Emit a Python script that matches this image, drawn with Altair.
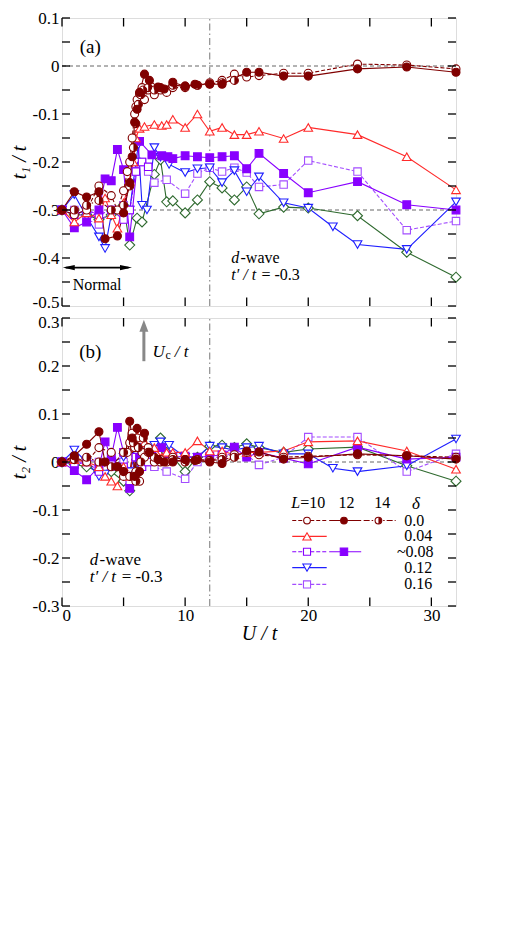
import altair as alt
import pandas as pd

FONT = "Liberation Serif"

# ---------------- data ----------------
# delta = 0.0, L = 10 (open circles, dashed)
U_C10 = [0, 1, 2, 3, 4, 4.5, 5, 5.3, 5.5, 5.7, 5.9, 6.0, 6.1, 6.3, 6.5, 6.7, 7, 7.5, 8, 8.5, 9, 10, 11, 12, 13, 14, 15, 16, 18, 20, 24, 28, 32]
T1_C10 = [-0.30, -0.31, -0.30, -0.25, -0.27, -0.30, -0.26, -0.22, -0.20, -0.15, -0.10, -0.085, -0.07, -0.058, -0.045, -0.07, -0.05, -0.06, -0.05, -0.055, -0.045, -0.045, -0.04, -0.035, -0.03, -0.017, -0.023, -0.02, -0.015, -0.015, 0.004, 0.002, -0.006]
T2_C10 = [0, 0.01, 0.0, 0.03, 0.02, -0.01, -0.03, 0.02, 0.04, 0.06, 0.03, -0.02, 0.05, -0.04, 0.02, 0.01, 0.03, 0.0, 0.005, 0.0, 0.01, 0.005, 0.005, 0.003, 0.01, 0.015, 0.02, 0.015, 0.01, 0.012, 0.015, 0.013, 0.01]

# delta = 0.0, L = 12 (filled circles, solid)
U_C12 = [0, 1, 2, 3, 3.5, 4.5, 5, 5.5, 5.7, 5.9, 6.1, 6.3, 6.7, 7.1, 7.8, 8.3, 9, 10, 10.8, 12, 13, 15, 16, 18, 20, 24, 28, 32]
T1_C12 = [-0.30, -0.262, -0.273, -0.262, -0.36, -0.354, -0.306, -0.243, -0.189, -0.117, -0.09, -0.055, -0.017, -0.03, -0.044, -0.048, -0.034, -0.042, -0.038, -0.038, -0.038, -0.013, -0.013, -0.021, -0.021, -0.006, -0.002, -0.013]
T2_C12 = [0, 0.013, 0.037, 0.063, 0.0, -0.01, -0.02, 0.085, 0.05, -0.03, 0.07, -0.02, 0.06, 0.02, 0.005, 0.0, 0.0, 0.005, 0.003, 0.0, -0.003, 0.023, 0.021, 0.006, 0.01, 0.017, 0.013, 0.006]

# delta = 0.0, L = 14 (half-filled circles, dash-dot)
U_C14 = [0, 1, 2, 3, 4, 5, 5.5, 5.8, 6, 6.2, 6.4, 6.6, 7, 7.5, 8, 9, 10, 11, 12, 13, 14]
T1_C14 = [-0.30, -0.30, -0.29, -0.28, -0.30, -0.29, -0.25, -0.17, -0.12, -0.08, -0.06, -0.05, -0.045, -0.05, -0.045, -0.04, -0.042, -0.04, -0.037, -0.035, -0.03]
T2_C14 = [0, 0.005, 0.01, 0.0, -0.01, 0.02, -0.03, 0.04, -0.04, 0.03, 0.0, 0.05, 0.02, 0.01, 0.0, 0.005, 0.0, 0.005, 0.003, 0.005, 0.01]

# delta = 0.04 (open triangles up, solid)
U_T04 = [0, 1, 2, 3, 3.5, 4, 4.5, 5, 5.5, 5.8, 6, 6.3, 6.7, 7.5, 8.1, 8.5, 9, 10, 11, 12, 13, 14, 15, 16, 18, 20, 24, 28, 32]
T1_T04 = [-0.30, -0.325, -0.306, -0.317, -0.275, -0.31, -0.338, -0.285, -0.24, -0.20, -0.15, -0.13, -0.126, -0.122, -0.124, -0.122, -0.111, -0.128, -0.10, -0.136, -0.128, -0.143, -0.143, -0.136, -0.151, -0.128, -0.143, -0.189, -0.258]
T2_T04 = [0, 0.005, 0.0, -0.01, -0.03, -0.04, -0.05, -0.01, -0.03, 0.03, 0.05, 0.058, 0.04, 0.03, 0.01, 0.02, 0.02, 0.02, 0.044, 0.023, 0.023, 0.015, 0.02, 0.02, 0.023, 0.042, 0.044, 0.023, -0.015]

# delta ~ 0.08, L = 10 (open squares, dashed)
U_S08A = [0, 1, 2, 3, 4, 5, 5.5, 6, 6.5, 7]
T1_S08A = [-0.30, -0.31, -0.30, -0.31, -0.30, -0.32, -0.30, -0.22, -0.20, -0.21]
T2_S08A = [0, -0.005, 0.0, -0.02, 0.005, -0.01, -0.04, 0.01, -0.01, 0.0]

# delta ~ 0.08, L = 12 (filled squares, solid)
U_S08B = [0, 1, 2, 3, 3.5, 4, 4.5, 5, 5.5, 6.3, 7.3, 8.1, 8.6, 9, 10, 11, 12, 13, 14, 15, 16, 18, 20, 24, 28, 32]
T1_S08B = [-0.30, -0.337, -0.325, -0.30, -0.235, -0.239, -0.174, -0.216, -0.356, -0.157, -0.185, -0.187, -0.189, -0.193, -0.187, -0.189, -0.191, -0.189, -0.187, -0.214, -0.182, -0.224, -0.264, -0.241, -0.289, -0.30]
T2_S08B = [0, -0.018, -0.037, -0.01, 0.042, 0.01, 0.072, 0.02, -0.055, 0.01, 0.02, 0.03, 0.015, 0.01, 0.012, 0.01, 0.012, 0.015, 0.031, 0.01, 0.02, 0.008, -0.004, 0.031, 0.006, 0.01]

# delta = 0.12 (open triangles down, solid)
U_T12 = [0, 1, 2, 3, 3.5, 4, 5, 5.5, 6, 6.2, 6.5, 6.9, 7.5, 8, 8.7, 10, 11, 12, 13, 14, 15, 16, 18, 20, 22, 24, 28, 32]
T1_T12 = [-0.30, -0.268, -0.314, -0.356, -0.38, -0.31, -0.30, -0.30, -0.20, -0.164, -0.29, -0.30, -0.17, -0.19, -0.205, -0.222, -0.214, -0.212, -0.243, -0.218, -0.262, -0.231, -0.285, -0.296, -0.335, -0.372, -0.382, -0.283]
T2_T12 = [0, 0.025, 0.0, -0.03, -0.025, 0.0, 0.01, -0.02, 0.02, 0.0, 0.03, 0.02, 0.035, 0.042, 0.035, 0.01, 0.01, 0.033, 0.03, 0.025, 0.03, 0.033, 0.017, 0.017, -0.013, -0.02, -0.008, 0.048]

# delta = 0.16 (open squares, dashed)
U_S16 = [0, 1, 2, 3, 4, 5, 5.5, 6, 6.5, 7, 7.5, 8.5, 10, 11, 12, 13, 14, 15, 16, 18, 20, 24, 28, 32]
T1_S16 = [-0.30, -0.30, -0.32, -0.33, -0.30, -0.29, -0.30, -0.22, -0.20, -0.22, -0.243, -0.237, -0.266, -0.224, -0.212, -0.22, -0.212, -0.222, -0.252, -0.247, -0.197, -0.22, -0.342, -0.323]
T2_S16 = [0, -0.005, 0.005, 0.0, -0.01, 0.0, -0.02, 0.01, 0.02, 0.0, -0.01, -0.02, -0.035, 0.0, 0.01, 0.01, 0.02, 0.015, -0.006, 0.01, 0.052, 0.052, -0.02, 0.017]

# green diamonds (solid)
U_DIA = [0, 1, 2, 3, 4, 5, 5.5, 6.1, 6.5, 7.5, 8, 8.5, 9, 10, 11, 12, 13, 14, 15, 16, 18, 20, 24, 28, 32]
T1_DIA = [-0.30, -0.31, -0.31, -0.32, -0.31, -0.29, -0.373, -0.317, -0.325, -0.226, -0.195, -0.283, -0.281, -0.306, -0.279, -0.241, -0.254, -0.279, -0.252, -0.308, -0.294, -0.296, -0.312, -0.388, -0.44]
T2_DIA = [0, -0.005, -0.01, -0.02, -0.02, -0.04, -0.06, -0.02, 0.0, 0.03, 0.05, 0.02, 0.01, -0.02, 0.01, 0.033, 0.035, 0.03, 0.038, 0.03, 0.02, 0.027, 0.031, -0.008, -0.04]

# axis ticks / labels
X_LABELS = [0, 10, 20, 30]
X_TICKS = [0, 5, 10, 15, 20, 25, 30]
YA_LABELS = [0.1, 0, -0.1, -0.2, -0.3, -0.4, -0.5]
YA_TICKS = [0.1, 0.05, 0, -0.05, -0.1, -0.15, -0.2, -0.25, -0.3, -0.35, -0.4, -0.45, -0.5]
YB_LABELS = [0.3, 0.2, 0.1, 0, -0.1, -0.2, -0.3]
YB_TICKS = [0.3, 0.25, 0.2, 0.15, 0.1, 0.05, 0, -0.05, -0.1, -0.15, -0.2, -0.25, -0.3]

# legend
LEG_HEAD = ["12", "14"]
LEG_DELTA = ["0.0", "0.04", "~0.08", "0.12", "0.16"]

MAROON = "#800000"
RED = "#ff2a2a"
PURPLE = "#8800ff"
LPURPLE = "#a34dff"
BLUE = "#1f1fff"
GREEN = "#2f6a2f"
GRAY = "#777777"

DASH = [4, 2]
DASHDOT = [6, 2, 1.5, 2]
HALF = "M0,-1A1,1,0,0,1,0,1Z"

SERIES = [
    dict(U=U_DIA, t1=T1_DIA, t2=T2_DIA, color=GREEN, dash=None, shape="diamond", fill="white", size=100),
    dict(U=U_S16, t1=T1_S16, t2=T2_S16, color=LPURPLE, dash=DASH, shape="square", fill="white", size=55),
    dict(U=U_T12, t1=T1_T12, t2=T2_T12, color=BLUE, dash=None, shape="triangle-down", fill="white", size=75),
    dict(U=U_S08A, t1=T1_S08A, t2=T2_S08A, color=PURPLE, dash=DASH, shape="square", fill="white", size=55),
    dict(U=U_S08B, t1=T1_S08B, t2=T2_S08B, color=PURPLE, dash=None, shape="square", fill=PURPLE, size=60),
    dict(U=U_T04, t1=T1_T04, t2=T2_T04, color=RED, dash=None, shape="triangle-up", fill="white", size=75),
    dict(U=U_C10, t1=T1_C10, t2=T2_C10, color=MAROON, dash=DASH, shape="circle", fill="white", size=64),
    dict(U=U_C14, t1=T1_C14, t2=T2_C14, color=MAROON, dash=DASHDOT, shape="circle", fill="white", size=64, half=True),
    dict(U=U_C12, t1=T1_C12, t2=T2_C12, color=MAROON, dash=None, shape="circle", fill=MAROON, size=64),
]

XMIN, XMAX = 0, 32
W, H = 394, 288


def panel(key, ymin, ymax, ylabels, yticks, ytitle, show_x, offset_expr):
    xs = alt.Scale(domain=[XMIN, XMAX], nice=False, zero=False)
    ys = alt.Scale(domain=[ymin, ymax], nice=False, zero=False)
    if show_x:
        xaxis = alt.Axis(values=X_LABELS, labelExpr="'' + datum.value", ticks=False, domain=False,
                         grid=False, labelFont=FONT, labelFontSize=17, labelColor="black",
                         labelPadding=1, title="U / t", titleFont=FONT, titleFontSize=20,
                         titleFontStyle="italic", titleFontWeight="normal", titleColor="black",
                         titlePadding=0)
    else:
        xaxis = None
    yaxis = alt.Axis(values=ylabels, labelExpr="'' + datum.value", ticks=False, domain=False, grid=False,
                     labelFont=FONT, labelFontSize=17, labelColor="black", labelPadding=3,
                     labelOffset=alt.expr(offset_expr),
                     title=ytitle, titleFont=FONT, titleFontSize=20, titleFontStyle="italic",
                     titleFontWeight="normal", titleColor="black", titlePadding=3)

    def X(f):
        return alt.X(f, type="quantitative", scale=xs, axis=xaxis)

    def Y(f):
        return alt.Y(f, type="quantitative", scale=ys, axis=yaxis)

    layers = []
    # reference lines
    hl = [0, -0.3] if key == "t1" else [0]
    layers.append(alt.Chart(pd.DataFrame({"U": [XMIN] * len(hl), "U2": [XMAX] * len(hl), "v": hl}))
                  .mark_rule(color="#666666", strokeWidth=1, strokeDash=[4, 3])
                  .encode(x=X("U"), x2="U2", y=Y("v")))
    layers.append(alt.Chart(pd.DataFrame({"U": [12], "v": [ymin], "v2": [ymax]}))
                  .mark_rule(color=GRAY, strokeWidth=1, strokeDash=[7, 3, 1.5, 3])
                  .encode(x=X("U"), y=Y("v"), y2="v2"))

    # series
    for s in SERIES:
        df = pd.DataFrame({"U": s["U"], "v": s[key]})
        base = alt.Chart(df)
        lkw = dict(color=s["color"], strokeWidth=1.1)
        if s["dash"]:
            lkw["strokeDash"] = s["dash"]
        layers.append(base.mark_line(**lkw).encode(x=X("U"), y=Y("v")))
    for s in SERIES:
        df = pd.DataFrame({"U": s["U"], "v": s[key]})
        base = alt.Chart(df)
        layers.append(base.mark_point(shape=s["shape"], filled=True, fill=s["fill"], stroke=s["color"],
                                      strokeWidth=1.1, size=s["size"], opacity=1)
                      .encode(x=X("U"), y=Y("v")))
        if s.get("half"):
            layers.append(base.mark_point(shape=HALF, filled=True, fill=s["color"], strokeWidth=0,
                                          size=s["size"], opacity=1)
                          .encode(x=X("U"), y=Y("v")))

    # inward ticks (all four sides)
    tx = 0.65
    ty = (ymax - ymin) * 8.5 / H
    yt = pd.DataFrame({"v": yticks})
    xt = pd.DataFrame({"U": X_TICKS})
    layers.append(alt.Chart(yt).transform_calculate(a=f"{XMIN}", b=f"{XMIN + tx}")
                  .mark_rule(color="black", strokeWidth=1.3).encode(x=X("a:Q"), x2="b:Q", y=Y("v")))
    layers.append(alt.Chart(yt).transform_calculate(a=f"{XMAX}", b=f"{XMAX - tx}")
                  .mark_rule(color="black", strokeWidth=1.3).encode(x=X("a:Q"), x2="b:Q", y=Y("v")))
    layers.append(alt.Chart(xt).transform_calculate(a=f"{ymin}", b=f"{ymin + ty}")
                  .mark_rule(color="black", strokeWidth=1.3).encode(x=X("U"), y=Y("a:Q"), y2="b:Q"))
    layers.append(alt.Chart(xt).transform_calculate(a=f"{ymax}", b=f"{ymax - ty}")
                  .mark_rule(color="black", strokeWidth=1.3).encode(x=X("U"), y=Y("a:Q"), y2="b:Q"))

    def txt(U, v, s, size=16, style="normal", align="left", color="black", baseline="middle"):
        return (alt.Chart(pd.DataFrame({"U": [U], "v": [v], "s": [s]}))
                .mark_text(font=FONT, fontSize=size, fontStyle=style, align=align, baseline=baseline,
                           color=color)
                .encode(x=X("U"), y=Y("v"), text="s:N"))

    if key == "t1":
        layers.append(txt(2.3, 0.04, "(a)", size=19, align="center"))
        layers.append(txt(13.75, -0.399, "d", size=16, style="italic"))
        layers.append(txt(14.5, -0.399, "-wave", size=16))
        layers.append(txt(13.75, -0.435, "t′ / t", size=16, style="italic"))
        layers.append(txt(16.2, -0.435, "= -0.3", size=16))
        # Normal arrow
        layers.append(alt.Chart(pd.DataFrame({"U": [0.3], "U2": [5.4], "v": [-0.42]}))
                      .mark_rule(color="black", strokeWidth=1.6).encode(x=X("U"), x2="U2", y=Y("v")))
        layers.append(alt.Chart(pd.DataFrame({"U": [0.55], "v": [-0.42]}))
                      .mark_point(shape="M-1,0L1,-0.45L1,0.45Z", filled=True, color="black", size=144, opacity=1)
                      .encode(x=X("U"), y=Y("v")))
        layers.append(alt.Chart(pd.DataFrame({"U": [5.2], "v": [-0.42]}))
                      .mark_point(shape="M1,0L-1,-0.45L-1,0.45Z", filled=True, color="black", size=144, opacity=1)
                      .encode(x=X("U"), y=Y("v")))
        layers.append(txt(2.85, -0.457, "Normal", align="center"))
    else:
        layers.append(txt(2.3, 0.23, "(b)", size=19, align="center"))
        layers.append(txt(2.25, -0.204, "d", size=17, style="italic"))
        layers.append(txt(3.05, -0.204, "-wave", size=17))
        layers.append(txt(2.25, -0.24, "t′ / t", size=17, style="italic"))
        layers.append(txt(4.85, -0.24, "= -0.3", size=17))
        # Uc arrow
        layers.append(alt.Chart(pd.DataFrame({"U": [6.65], "v": [0.21], "v2": [0.275]}))
                      .mark_rule(color="#888888", strokeWidth=3).encode(x=X("U"), y=Y("v"), y2="v2"))
        layers.append(alt.Chart(pd.DataFrame({"U": [6.65], "v": [0.284]}))
                      .mark_point(shape="M0,-1L-0.75,1L0.75,1Z", filled=True, color="#888888", size=144, opacity=1)
                      .encode(x=X("U"), y=Y("v")))
        layers.append(txt(7.35, 0.229, "U", size=17, style="italic"))
        layers.append(txt(8.4, 0.222, "c", size=12))
        layers.append(txt(9.15, 0.229, "/ t", size=17, style="italic"))
        # legend
        hy = -0.086
        layers.append(txt(19.35, hy, "L", style="italic", align="right"))
        layers.append(txt(19.35, hy, "=10"))
        layers.append(txt(23.1, hy, LEG_HEAD[0], align="center"))
        layers.append(txt(26.0, hy, LEG_HEAD[1], align="center"))
        layers.append(txt(28.75, hy - 0.002, "δ", size=17, style="italic", align="center"))
        rows = [-0.122, -0.155, -0.187, -0.22, -0.255]
        cols = [(18.7, 21.5, 19.9), (21.7, 24.3, 22.9), (24.5, 27.1, 25.7)]
        entries = [
            [(MAROON, DASH, "circle", "white", 45, False), (MAROON, None, "circle", MAROON, 45, False),
             (MAROON, DASHDOT, "circle", "white", 45, True)],
            [(RED, None, "triangle-up", "white", 70, False)],
            [(PURPLE, DASH, "square", "white", 50, False), (PURPLE, None, "square", PURPLE, 55, False)],
            [(BLUE, None, "triangle-down", "white", 70, False)],
            [(LPURPLE, DASH, "square", "white", 50, False)],
        ]
        lab_x = [27.8, 27.8, 27.2, 27.8, 27.8]
        for r, (yv, ents) in enumerate(zip(rows, entries)):
            for c, (col, dash, shp, fil, sz, half) in enumerate(ents):
                x1, x2, xm = cols[c]
                kw = dict(color=col, strokeWidth=1.1)
                if dash:
                    kw["strokeDash"] = dash
                layers.append(alt.Chart(pd.DataFrame({"U": [x1], "U2": [x2], "v": [yv]}))
                              .mark_rule(**kw).encode(x=X("U"), x2="U2", y=Y("v")))
                pdf = pd.DataFrame({"U": [xm], "v": [yv]})
                layers.append(alt.Chart(pdf).mark_point(shape=shp, filled=True, fill=fil, stroke=col,
                                                        strokeWidth=1.1, size=sz, opacity=1)
                              .encode(x=X("U"), y=Y("v")))
                if half:
                    layers.append(alt.Chart(pdf).mark_point(shape=HALF, filled=True, fill=col, strokeWidth=0,
                                                            size=sz, opacity=1)
                                  .encode(x=X("U"), y=Y("v")))
            layers.append(txt(lab_x[r], yv, LEG_DELTA[r]))

    return alt.layer(*layers).properties(width=W, height=H)


top = panel("t1", -0.5, 0.1, YA_LABELS, YA_TICKS, "t₁ / t", False, "datum.value == -0.5 ? -4 : 0")
bot = panel("t2", -0.3, 0.3, YB_LABELS, YB_TICKS, "t₂ / t", True, "datum.value == 0.3 ? 4 : 0")

chart = (alt.vconcat(top, bot, spacing=12, bounds="flush")
         .properties(padding={"left": 0, "top": 0, "right": 5, "bottom": 5})
         .configure_view(stroke="black", strokeWidth=2)
         .configure(background="white"))

chart.save("out.html", embed_options={"renderer": "svg", "actions": False})
